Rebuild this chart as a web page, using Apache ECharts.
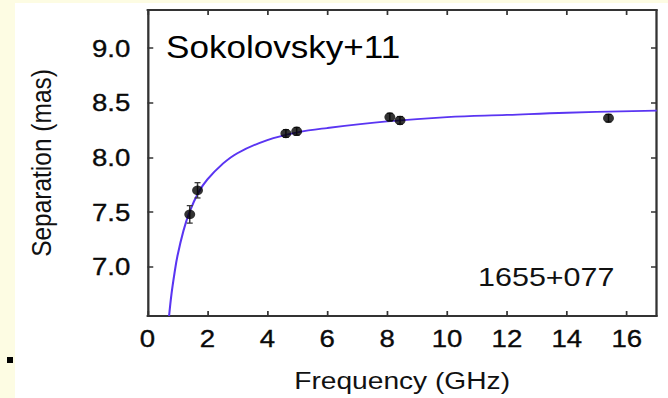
<!DOCTYPE html>
<html>
<head>
<meta charset="utf-8">
<script src="https://cdn.jsdelivr.net/npm/echarts@6/dist/echarts.min.js"></script>
<style>
  html, body { margin: 0; padding: 0; }
  body { width: 668px; height: 398px; background: #fdfce3; position: relative; overflow: hidden; }
  #paper { position: absolute; left: 15px; top: 3px; right: 0; bottom: 0; background: #ffffff; }
  #dot { position: absolute; left: 7px; top: 357px; width: 6px; height: 6px; background: #000; }
  #chart { position: absolute; left: 0; top: 0; width: 581px; height: 398px; transform: scaleX(1.14974); transform-origin: 0 0; }
</style>
</head>
<body>
<div id="paper"></div>
<div id="dot"></div>
<div id="chart"></div>
<script>
// Measured points (frequency in GHz, separation in mas)
const freqs = [1.41, 1.67, 4.62, 4.98, 8.09, 8.43, 15.39];
const separations = [7.48, 7.70, 8.22, 8.24, 8.37, 8.34, 8.36];
const errors = [0.08, 0.07, 0.035, 0.035, 0.035, 0.035, 0.035];

// Fitted curve
const curveFreqs = [0.72, 0.8, 0.9, 1.0, 1.2, 1.4, 1.7, 2.0, 2.5, 3.0, 4.0, 5.0, 6.0, 8.0, 10.0, 12.0, 14.0, 17.0];
const curveSeps  = [6.55, 6.75, 6.94, 7.10, 7.33, 7.50, 7.68, 7.80, 7.94, 8.04, 8.16, 8.23, 8.27, 8.33, 8.37, 8.39, 8.41, 8.43];

// Tick labels
const xTicks = [0, 2, 4, 6, 8, 10, 12, 14, 16];
const yTicks = [7.0, 7.5, 8.0, 8.5, 9.0];

const xName = 'Frequency (GHz)';
const yName = 'Separation (mas)';
const refLabel = 'Sokolovsky+11';
const sourceLabel = '1655+077';

const FONT = "'Liberation Sans', Arial, Helvetica, sans-serif";
const AX = '#333333';

const chart = echarts.init(document.getElementById('chart'), null, { renderer: 'svg' });

const scatterData = freqs.map((f, i) => [f, separations[i]]);
const errData = freqs.map((f, i) => [f, separations[i] - errors[i], separations[i] + errors[i]]);
const curveData = curveFreqs.map((f, i) => [f, curveSeps[i]]);

const baseX = {
  type: 'value', min: 0, max: 17,
  splitLine: { show: false },
  axisLine: { show: true, onZero: false, lineStyle: { color: AX, width: 2 } },
  axisTick: { show: true, inside: true, length: 5, customValues: xTicks, lineStyle: { color: AX, width: 1.5 } }
};
const baseY = {
  type: 'value', min: 6.55, max: 9.35,
  splitLine: { show: false },
  axisLine: { show: true, onZero: false, lineStyle: { color: AX, width: 2 } },
  axisTick: { show: true, inside: true, length: 5, customValues: yTicks, lineStyle: { color: AX, width: 1.5 } }
};

const tickText = { fontFamily: FONT, fontSize: 24, color: '#0a0a0a', textBorderColor: '#0a0a0a', textBorderWidth: 0.35 };

chart.setOption({
  animation: false,
  backgroundColor: 'transparent',
  grid: { left: 128.3, right: 9.8, top: 10, bottom: 81, containLabel: false },
  xAxis: [
    Object.assign({}, baseX, {
      position: 'bottom',
      name: xName, nameLocation: 'middle', nameGap: 52,
      nameTextStyle: { fontFamily: FONT, fontSize: 24.5, color: '#111' },
      axisLabel: Object.assign({ show: true, customValues: xTicks, margin: 11, formatter: v => String(v) }, tickText)
    }),
    Object.assign({}, baseX, { position: 'top', axisLabel: { show: false } })
  ],
  yAxis: [
    Object.assign({}, baseY, {
      position: 'left',
      name: yName, nameLocation: 'middle', nameGap: 80, nameRotate: 90,
      nameTextStyle: { fontFamily: FONT, fontSize: 24.5, color: '#111' },
      axisLabel: Object.assign({ show: true, customValues: yTicks, margin: 15, formatter: v => v.toFixed(1) }, tickText)
    }),
    Object.assign({}, baseY, { position: 'right', axisLabel: { show: false } })
  ],
  graphic: [
    { type: 'text', left: 144.4, top: 32, style: { text: refLabel, font: "30.5px " + FONT, fill: '#000' } },
    { type: 'text', left: 415.8, top: 263, style: { text: sourceLabel, font: "26.5px " + FONT, fill: '#111' } }
  ],
  series: [
    {
      type: 'line', xAxisIndex: 0, yAxisIndex: 0,
      data: curveData, smooth: 0.4, showSymbol: false, symbol: 'none',
      lineStyle: { color: '#5a35f2', width: 1.8 }, clip: true, z: 2
    },
    {
      type: 'custom', xAxisIndex: 0, yAxisIndex: 0, data: errData, z: 3,
      renderItem: function (params, api) {
        const x = api.value(0);
        const lo = api.coord([x, api.value(1)]);
        const hi = api.coord([x, api.value(2)]);
        const cap = 2.6;
        const st = { stroke: '#3a3a3a', lineWidth: 1.3 };
        return {
          type: 'group',
          children: [
            { type: 'line', shape: { x1: lo[0], y1: lo[1], x2: hi[0], y2: hi[1] }, style: st },
            { type: 'line', shape: { x1: lo[0] - cap, y1: lo[1], x2: lo[0] + cap, y2: lo[1] }, style: st },
            { type: 'line', shape: { x1: hi[0] - cap, y1: hi[1], x2: hi[0] + cap, y2: hi[1] }, style: st }
          ]
        };
      }
    },
    {
      type: 'scatter', xAxisIndex: 0, yAxisIndex: 0,
      data: scatterData, symbol: 'circle', symbolSize: 9.5,
      itemStyle: { color: '#000' }, z: 4
    }
  ]
});
</script>
</body>
</html>
